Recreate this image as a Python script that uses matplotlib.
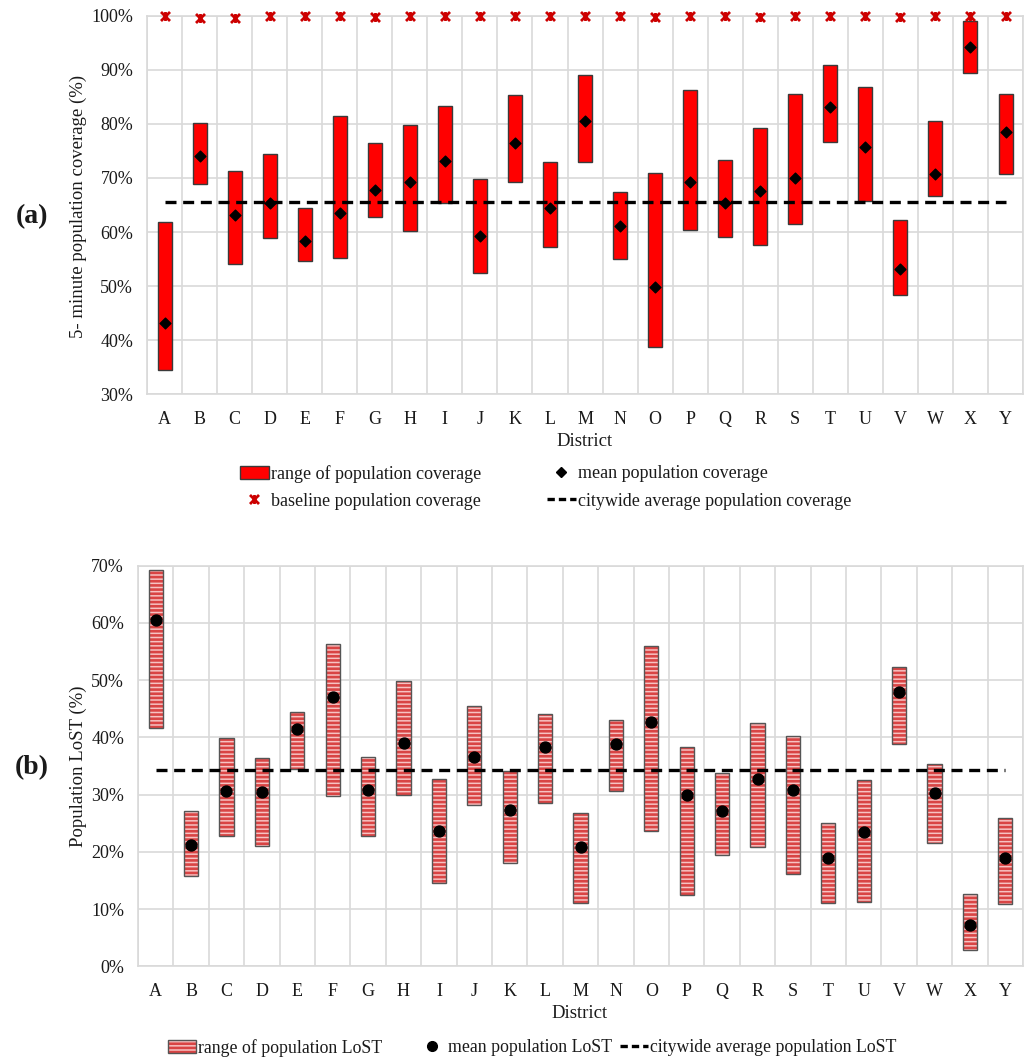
import numpy as np
import matplotlib
matplotlib.use("Agg")
import matplotlib.pyplot as plt
from matplotlib.patches import Patch
from matplotlib.lines import Line2D
from matplotlib.path import Path
from matplotlib.legend_handler import HandlerTuple
from matplotlib.ticker import PercentFormatter, FixedLocator

plt.rcParams['font.family'] = ['Liberation Serif', 'DejaVu Serif']
plt.rcParams['hatch.linewidth'] = 1.9

districts = list("ABCDEFGHIJKLMNOPQRSTUVWXY")

# (a) 5-minute population coverage (%)
cov_low = [34.4, 68.8, 54.0, 58.9, 54.7, 55.2, 62.8, 60.1, 65.3, 52.5, 69.3, 57.3, 73.0,
           55.0, 38.8, 60.4, 59.0, 57.6, 61.5, 76.7, 65.7, 48.4, 66.6, 89.4, 70.7]
cov_high = [61.9, 80.2, 71.2, 74.4, 64.5, 81.5, 76.5, 79.8, 83.3, 69.8, 85.3, 73.0, 89.0,
            67.4, 71.0, 86.2, 73.3, 79.2, 85.5, 90.8, 86.9, 62.2, 80.5, 99.0, 85.5]
cov_mean = [43.2, 74.1, 63.2, 65.4, 58.4, 63.6, 67.8, 69.2, 73.1, 59.2, 76.4, 64.5, 80.5,
            61.1, 49.8, 69.3, 65.4, 67.5, 69.9, 83.1, 75.7, 53.1, 70.8, 94.3, 78.5]
cov_base = [99.9, 99.6, 99.6, 100.0, 100.0, 100.0, 99.8, 100.0, 100.0, 100.0, 100.0, 100.0, 100.0,
            100.0, 99.7, 100.0, 99.9, 99.7, 100.0, 100.0, 100.0, 99.7, 100.0, 100.0, 100.0]
cov_city = 65.6

# (b) population LoST (%)
lost_low = [41.6, 15.8, 22.8, 21.0, 34.5, 29.8, 22.8, 30.0, 14.6, 28.1, 18.0, 28.5, 11.0,
            30.6, 23.6, 12.4, 19.5, 20.9, 16.1, 11.0, 11.3, 38.8, 21.5, 2.9, 10.9]
lost_high = [69.2, 27.2, 39.9, 36.4, 44.4, 56.3, 36.6, 49.8, 32.7, 45.5, 34.2, 44.1, 26.8,
             43.0, 55.9, 38.3, 33.8, 42.5, 40.2, 25.1, 32.6, 52.3, 35.4, 12.6, 25.9]
lost_mean = [60.6, 21.2, 30.6, 30.5, 41.4, 47.1, 30.8, 39.1, 23.7, 36.6, 27.3, 38.3, 20.8,
             38.8, 42.7, 29.9, 27.1, 32.8, 30.8, 19.0, 23.4, 48.0, 30.2, 7.2, 19.0]
lost_city = 34.3

TXT = '#1a1a1a'
GRID = '#d9d9d9'
RED = '#ff0000'
BASE_RED = '#cc0000'
PINK = '#f7c2c2'
STRIPE = '#d94444'
x = np.arange(len(districts))
w = 0.4
W, H = 1029, 1061

# asterisk-like marker: x with a vertical bar
star = Path([(-1, -1), (1, 1), (-1, 1), (1, -1), (0, -1), (0, 1)],
            [Path.MOVETO, Path.LINETO, Path.MOVETO, Path.LINETO, Path.MOVETO, Path.LINETO])

fig = plt.figure(figsize=(W / 100, H / 100), dpi=100)
ax1 = fig.add_axes([0.1429, 0.6284, 0.8513, 0.3568])
ax2 = fig.add_axes([0.1341, 0.0893, 0.8601, 0.3775])


def style(ax, ymin, ymax):
    ax.set_xlim(-0.5, len(districts) - 0.5)
    ax.set_ylim(ymin, ymax)
    ax.set_yticks(np.arange(ymin, ymax + 1, 10))
    ax.yaxis.set_major_formatter(PercentFormatter(decimals=0))
    ax.set_xticks(x)
    ax.set_xticklabels(districts)
    ax.xaxis.set_minor_locator(FixedLocator(np.arange(-0.5, len(districts), 1.0)))
    ax.grid(True, which='minor', axis='x', color=GRID, lw=1.2)
    ax.grid(True, which='major', axis='y', color=GRID, lw=1.2)
    ax.set_axisbelow(True)
    for s in ax.spines.values():
        s.set_color(GRID)
        s.set_linewidth(1.2)
    ax.tick_params(which='both', length=0, labelsize=13, colors=TXT)
    ax.tick_params(axis='y', pad=10)
    ax.tick_params(axis='x', pad=12)


# ---- (a) ----
style(ax1, 30, 100)
cov_low_a = np.array(cov_low)
ax1.bar(x, np.array(cov_high) - cov_low_a, bottom=cov_low_a, width=w,
        color=RED, edgecolor='#3a3a3a', linewidth=1.0, zorder=2)
ax1.plot([x[0], x[-1]], [cov_city, cov_city], color='black', lw=2.4,
         dashes=(3.3, 2.0), zorder=3)
ax1.scatter(x, cov_mean, marker='D', s=30, color='black', zorder=4)
ax1.scatter(x, cov_base, marker=star, s=42, color=BASE_RED, linewidths=2.0,
            zorder=4, clip_on=False)

# ---- (b) ----
style(ax2, 0, 70)
lost_low_a = np.array(lost_low)
ax2.bar(x, np.array(lost_high) - lost_low_a, bottom=lost_low_a, width=w,
        color=PINK, edgecolor=STRIPE, linewidth=0, hatch='----', zorder=2)
ax2.bar(x, np.array(lost_high) - lost_low_a, bottom=lost_low_a, width=w,
        fill=False, edgecolor='#555555', linewidth=1.0, zorder=2.5)
ax2.plot([x[0], x[-1]], [lost_city, lost_city], color='black', lw=2.4,
         dashes=(3.3, 2.0), zorder=3)
ax2.scatter(x, lost_mean, marker='o', s=62, color='black', zorder=4)

# axis titles
fig.text(78 / W, 1 - 206 / H, '5- minute population coverage (%)', rotation=90,
         ha='center', va='center', fontsize=13.5, color=TXT)
fig.text(78 / W, 1 - 766 / H, 'Population LoST (%)', rotation=90,
         ha='center', va='center', fontsize=13.5, color=TXT)
fig.text(585 / W, 1 - 441 / H, 'District', ha='center', va='center',
         fontsize=13.5, color=TXT)
fig.text(580 / W, 1 - 1014 / H, 'District', ha='center', va='center',
         fontsize=13.5, color=TXT)
fig.text(32 / W, 1 - 217 / H, '(a)', ha='center', va='center',
         fontsize=20, fontweight='bold', color=TXT)
fig.text(32 / W, 1 - 768 / H, '(b)', ha='center', va='center',
         fontsize=20, fontweight='bold', color=TXT)


def entry(handle, label, xpx, ypx, size, hlen=1.6, **kw):
    """Single legend entry whose handle box starts at pixel xpx."""
    fig.legend([handle], [label], loc='center left',
               bbox_to_anchor=(xpx / W, 1 - ypx / H), frameon=False,
               fontsize=size, handlelength=hlen, handletextpad=0.1,
               borderpad=0, borderaxespad=0, labelcolor=TXT, **kw)


# legend of (a)
h_range = Patch(facecolor=RED, edgecolor='#3a3a3a', linewidth=1.0)
h_base = Line2D([], [], ls='none', marker=star, markersize=6.5, markeredgewidth=2.0,
                color=BASE_RED)
h_mean = Line2D([], [], ls='none', marker='D', markersize=5, color='black')
h_city = Line2D([], [], color='black', lw=2.4, dashes=(2.2, 1.2))
entry(h_range, 'range of population coverage', 240, 474, 13)
entry(h_base, 'baseline population coverage', 240, 501, 13)
entry(h_mean, 'mean population coverage', 547, 474, 13)
entry(h_city, 'citywide average population coverage', 547, 501, 13)

# legend of (b)
h_lrange = (Patch(facecolor=PINK, edgecolor=STRIPE, linewidth=0, hatch='----'),
            Patch(fill=False, edgecolor='#555555', linewidth=1.0))
h_lmean = Line2D([], [], ls='none', marker='o', markersize=7, color='black')
h_lcity = Line2D([], [], color='black', lw=2.4, dashes=(2.2, 1.2))
tup = {tuple: HandlerTuple(ndivide=1, pad=0)}
entry(h_lrange, 'range of population LoST', 168, 1048, 12.8, handler_map=tup)
entry(h_lmean, 'mean population LoST', 418, 1048, 12.8)
entry(h_lcity, 'citywide average population LoST', 620, 1048, 12.8)

fig.savefig('out.png', dpi=100, facecolor='white')
